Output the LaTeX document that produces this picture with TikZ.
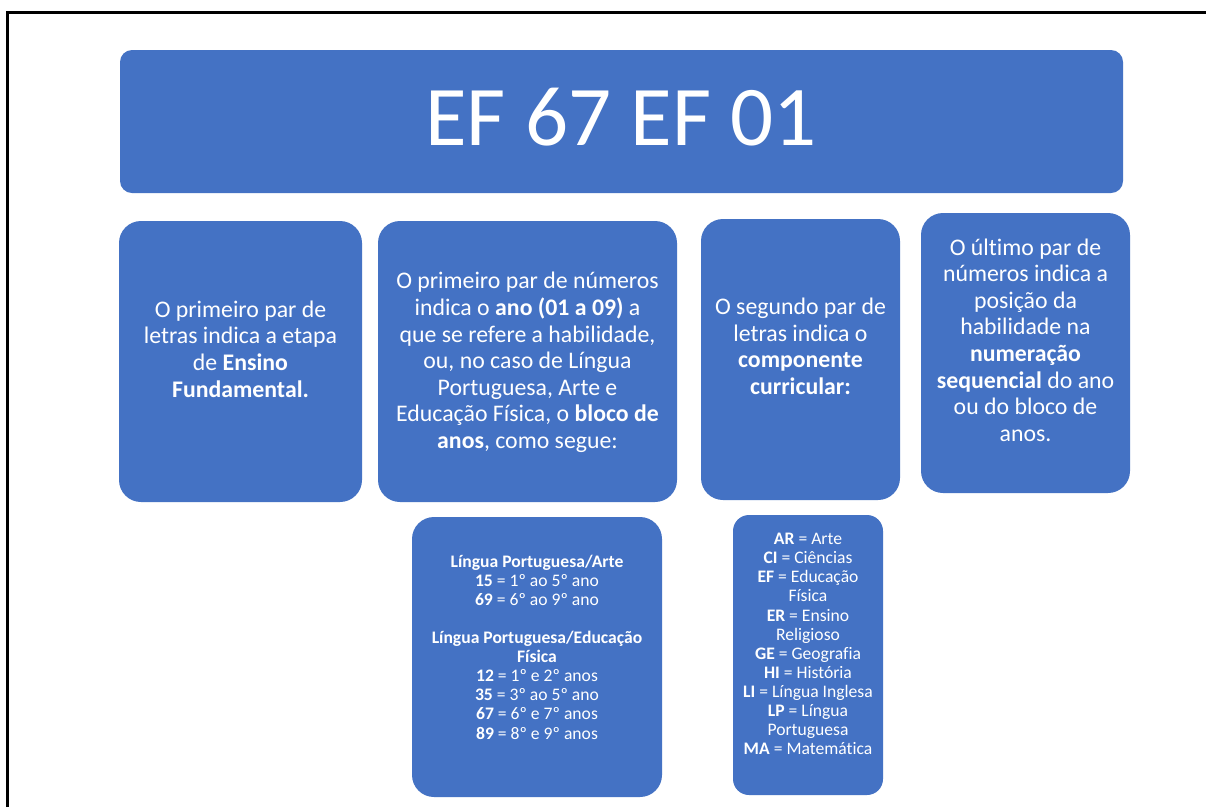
\documentclass[tikz,border=0pt]{standalone}
\usepackage{fontspec}
\setmainfont{Carlito}[Ligatures={NoCommon}]
\definecolor{boxblue}{HTML}{4472C4}
\tikzset{
  panel/.style={fill=boxblue, draw=none, inner sep=0pt, rounded corners=#1},
  panel/.default=22pt,
  bigtxt/.style={text=white, align=center, inner sep=0pt,
    font=\fontsize{23.8}{26.6}\selectfont},
  smalltxt/.style={text=white, align=center, inner sep=0pt,
    font=\fontsize{17.6}{19.1}\selectfont},
  titletxt/.style={text=white, inner sep=0pt,
    font=\fontsize{85}{100}\selectfont}
}
\begin{document}
\begin{tikzpicture}[x=1pt, y=-1pt]
  \useasboundingbox (0,0) rectangle (1206,807);
  \fill[white] (0,0) rectangle (1206,807);

  % page frame (left and top edges)
  \coordinate (fb) at (7,807);
  \coordinate (fc) at (7,12.2);
  \coordinate (fr) at (1206,12.2);
  \draw[line width=3pt] (fb) -- (fc) -- (fr);

  % title bar
  \node[panel=12pt, minimum width=1003pt, minimum height=143pt] (title) at (621.5,121.5) {};
  \node[titletxt] (titletext) at (621,117) {EF 67 EF 01};

  % explanation panels
  \node[panel, minimum width=243pt, minimum height=281pt] (b1) at (240.5,361.5) {};
  \node[panel, minimum width=299pt, minimum height=281pt] (b2) at (527.5,361.5) {};
  \node[panel, minimum width=199pt, minimum height=281pt] (b3) at (800.5,359.5) {};
  \node[panel, minimum width=209pt, minimum height=280pt] (b4) at (1025.5,353) {};
  \node[panel, minimum width=250pt, minimum height=280pt] (b5) at (537,657) {};
  \node[panel=16pt, minimum width=150pt, minimum height=280pt] (b6) at (808,655) {};

  \node[bigtxt] (t1) at (240.5,349) {O primeiro par de\\letras indica a etapa\\de \textbf{Ensino}\\\textbf{Fundamental.}};

  \node[bigtxt] (t2) at (527.5,362.5) {O primeiro par de números\\indica o \textbf{ano (01 a 09)} a\\que se refere a habilidade,\\ou, no caso de Língua\\Portuguesa, Arte e\\Educação Física, o \textbf{bloco de}\\\textbf{anos}, como segue:};

  \node[bigtxt] (t3) at (800.5,346.5) {O segundo par de\\letras indica o\\\textbf{componente}\\\textbf{curricular:}};

  \node[bigtxt] (t4) at (1025.5,340) {O último par de\\números indica a\\posição da\\habilidade na\\\textbf{numeração}\\\textbf{sequencial} do ano\\ou do bloco de\\anos.};

  \node[smalltxt] (t5) at (537,647) {\textbf{Língua Portuguesa/Arte}\\\textbf{15} = 1º ao 5º ano\\\textbf{69} = 6º ao 9º ano\\[19.1pt]\textbf{Língua Portuguesa/Educação}\\\textbf{Física}\\\textbf{12} = 1º e 2º anos\\\textbf{35} = 3º ao 5º ano\\\textbf{67} = 6º e 7º anos\\\textbf{89} = 8º e 9º anos};

  \node[smalltxt] (t6) at (808,644) {\textbf{AR} = Arte\\\textbf{CI} = Ciências\\\textbf{EF} = Educação\\Física\\\textbf{ER} = Ensino\\Religioso\\\textbf{GE} = Geografia\\\textbf{HI} = História\\\textbf{LI} = Língua Inglesa\\\textbf{LP} = Língua\\Portuguesa\\\textbf{MA} = Matemática};
\end{tikzpicture}
\end{document}
